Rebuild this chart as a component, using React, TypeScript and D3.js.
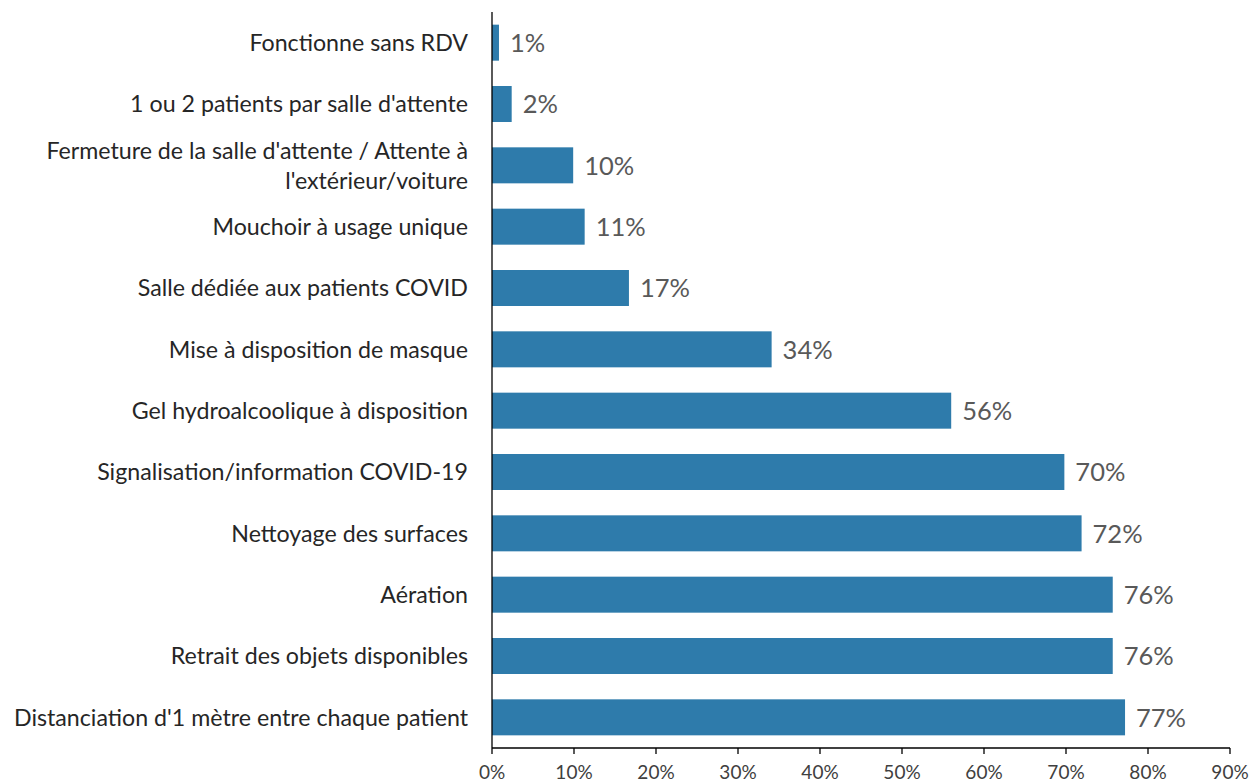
import React from "react";
import * as d3 from "d3";

const categories: string[][] = [
  ["Fonctionne sans RDV"],
  ["1 ou 2 patients par salle d'attente"],
  ["Fermeture de la salle d'attente / Attente à", "l'extérieur/voiture"],
  ["Mouchoir à usage unique"],
  ["Salle dédiée aux patients COVID"],
  ["Mise à disposition de masque"],
  ["Gel hydroalcoolique à disposition"],
  ["Signalisation/information COVID-19"],
  ["Nettoyage des surfaces"],
  ["Aération"],
  ["Retrait des objets disponibles"],
  ["Distanciation d'1 mètre entre chaque patient"],
];
const values: number[] = [0.85, 2.4, 9.9, 11.3, 16.7, 34.1, 56.0, 69.8, 71.9, 75.7, 75.7, 77.2];
const ticks: number[] = [0, 10, 20, 30, 40, 50, 60, 70, 80, 90];

const W = 1255;
const H = 784;
const FONT = "Lato, 'Open Sans', sans-serif";

export default function App() {
  const x = d3.scaleLinear().domain([0, 90]).range([492, 1230]);
  const idx = categories.map((_, i) => String(i));
  const y = d3
    .scaleBand<string>()
    .domain(idx)
    .range([12, 748])
    .paddingInner(0.413)
    .paddingOuter(0.2065);
  const bw = y.bandwidth();
  const axisY = 748;

  return (
    <svg
      width={W}
      height={H}
      style={{ position: "absolute", left: 0, top: 0, background: "#fff" }}
      fontFamily={FONT}
    >
      {values.map((v, i) => (
        <rect
          key={"b" + i}
          x={x(0)}
          y={y(String(i))!}
          width={x(v) - x(0)}
          height={bw}
          fill="#2e7bab"
        />
      ))}
      {values.map((v, i) => (
        <text
          key={"v" + i}
          x={x(v) + 11}
          y={y(String(i))! + bw / 2}
          dy="0.36em"
          fontSize={25.5}
          fill="#595959"
        >
          {Math.round(v) + "%"}
        </text>
      ))}
      {categories.map((lines, i) => {
        const cy = y(String(i))! + bw / 2;
        const lh = 30;
        const start = cy - ((lines.length - 1) * lh) / 2;
        return (
          <text
            key={"c" + i}
            x={468}
            textAnchor="end"
            fontSize={23.2}
            fill="#262626"
          >
            {lines.map((l, j) => (
              <tspan key={j} x={468} y={start + j * lh} dy="0.36em">
                {l}
              </tspan>
            ))}
          </text>
        );
      })}
      <line x1={x(0)} x2={x(0)} y1={12} y2={axisY} stroke="#000" strokeWidth={1.3} />
      <line x1={x(0)} x2={x(90)} y1={axisY} y2={axisY} stroke="#000" strokeWidth={1.3} />
      {ticks.map((t) => (
        <g key={"t" + t}>
          <line x1={x(t)} x2={x(t)} y1={axisY} y2={axisY + 6} stroke="#000" strokeWidth={1.3} />
          <text
            x={x(t)}
            y={772}
            dy="0.36em"
            textAnchor="middle"
            fontSize={19}
            fill="#404040"
          >
            {t + "%"}
          </text>
        </g>
      ))}
    </svg>
  );
}
